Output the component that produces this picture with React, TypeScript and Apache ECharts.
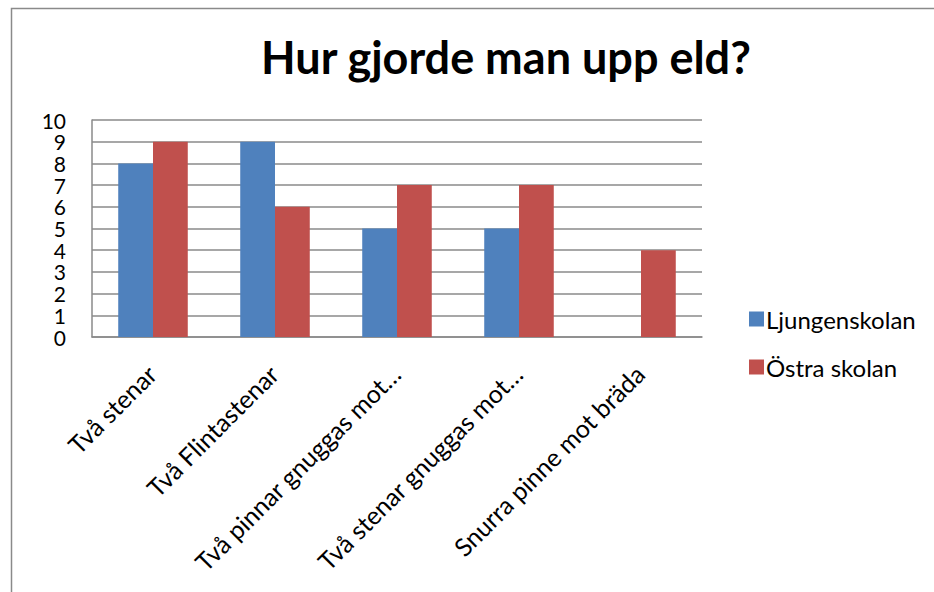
import React, { useEffect, useRef } from "react";
import * as echarts from "echarts";

const categories = [
  "Två stenar",
  "Två Flintastenar",
  "Två pinnar gnuggas mot…",
  "Två stenar gnuggas mot…",
  "Snurra pinne mot bräda",
];
const ljungenskolan = [8, 9, 5, 5, 0];
const ostraSkolan = [9, 6, 7, 7, 4];
const seriesNames = ["Ljungenskolan", "Östra skolan"];
const titleText = "Hur gjorde man upp eld?";

const FONT = "Lato, 'Open Sans', sans-serif";

export default function App() {
  const ref = useRef<HTMLDivElement>(null);
  useEffect(() => {
    if (!ref.current) return;
    const chart = echarts.init(ref.current, null, { renderer: "svg" });
    chart.setOption({
      animation: false,
      backgroundColor: "#ffffff",
      textStyle: { fontFamily: FONT, color: "#000" },
      title: {
        text: titleText,
        left: 256,
        top: 29,
        textStyle: { fontFamily: FONT, fontWeight: "bold", fontSize: 45, color: "#000" },
      },
      legend: {
        orient: "vertical",
        left: 744,
        top: 302,
        itemWidth: 15,
        itemHeight: 15,
        itemGap: 24,
        icon: "rect",
        textStyle: { fontFamily: FONT, fontSize: 24, color: "#000", padding: [0, 0, 0, -3] },
        data: seriesNames,
      },
      graphic: [
        {
          type: "polyline",
          shape: { points: [[11.5, 592], [11.5, 8.5], [934, 8.5]] },
          style: { stroke: "#8a8a8a", lineWidth: 1.5, fill: "none" },
          silent: true,
        },
      ],
      grid: { left: 92, right: 232, top: 120, bottom: 255, containLabel: false },
      xAxis: {
        type: "category",
        data: categories,
        axisLine: { show: true, lineStyle: { color: "#8a8a8a", width: 1.5 } },
        axisTick: { show: false },
        axisLabel: {
          rotate: 45,
          interval: 0,
          margin: 31,
          padding: [0, 2, 0, 0],
          fontFamily: FONT,
          fontSize: 25,
          color: "#000",
        },
      },
      yAxis: {
        type: "value",
        min: 0,
        max: 10,
        interval: 1,
        axisLine: { show: true, lineStyle: { color: "#8a8a8a", width: 1.5 } },
        axisTick: { show: false },
        splitLine: { show: true, lineStyle: { color: "#8a8a8a", width: 1.5 } },
        axisLabel: {
          margin: 26,
          fontFamily: FONT,
          fontSize: 21,
          color: "#000",
          showMinLabel: true,
          showMaxLabel: true,
        },
      },
      series: [
        {
          name: seriesNames[0],
          type: "bar",
          data: ljungenskolan,
          itemStyle: { color: "#4f81bd" },
          barGap: "0%",
          barCategoryGap: "43%",
        },
        {
          name: seriesNames[1],
          type: "bar",
          data: ostraSkolan,
          itemStyle: { color: "#c0504d" },
          barGap: "0%",
          barCategoryGap: "43%",
        },
      ],
    });
    return () => chart.dispose();
  }, []);
  return (
    <div
      ref={ref}
      style={{ position: "absolute", left: 0, top: 0, width: 934, height: 592 }}
    />
  );
}
